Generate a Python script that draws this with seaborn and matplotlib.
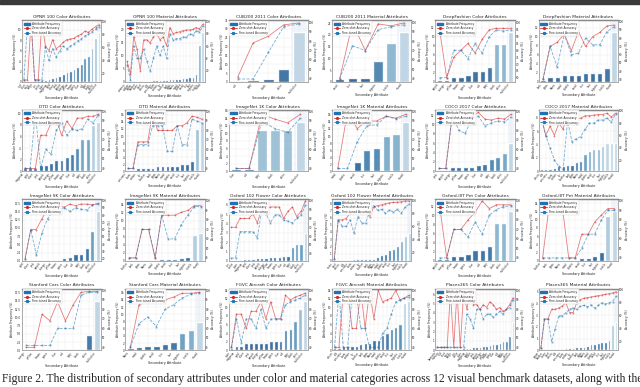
"""
Secondary attribute distributions (color / material) across 12 benchmarks
bars = attribute frequency, lines = accuracy of two models (twin axis)
"""

import numpy as np
import pandas as pd
import matplotlib
matplotlib.use('Agg')
import matplotlib.pyplot as plt
from matplotlib.patches import Patch, Rectangle
from matplotlib.lines import Line2D
import seaborn as sns

# ============================================================================
# 1. DATA (approximate)
# ============================================================================

titles = [
    'OPNR 100 Color Attributes', 'OPNR 100 Material Attributes',
    'CUB200 2011 Color Attributes', 'CUB200 2011 Material Attributes',
    'DeepFashion Color Attributes', 'DeepFashion Material Attributes',
    'DTD Color Attributes', 'DTD Material Attributes',
    'ImageNet 1K Color Attributes', 'ImageNet 1K Material Attributes',
    'COCO 2017 Color Attributes', 'COCO 2017 Material Attributes',
    'ImageNet SK Color Attributes', 'ImageNet SK Material Attributes',
    'Oxford 102 Flower Color Attributes', 'Oxford 102 Flower Material Attributes',
    'Oxford-IIIT Pet Color Attributes', 'Oxford-IIIT Pet Material Attributes',
    'Stanford Cars Color Attributes', 'Stanford Cars Material Attributes',
    'FGVC Aircraft Color Attributes', 'FGVC Aircraft Material Attributes',
    'Places365 Color Attributes', 'Places365 Material Attributes',
]

color_names = ['lavender', 'maroon', 'teal', 'olive', 'navy', 'beige', 'tan',
               'violet', 'cyan', 'magenta', 'gold', 'silver', 'pink', 'purple',
               'orange', 'yellow', 'brown', 'green', 'blue', 'red', 'gray',
               'black', 'white', 'multicolor']
material_names = ['ceramic', 'rubber', 'paper', 'leather', 'stone', 'wool',
                  'denim', 'silk', 'concrete', 'foam', 'cotton', 'fur', 'feather',
                  'bark', 'glass', 'fabric', 'metal', 'plastic', 'wood', 'skin',
                  'hair', 'organic', 'textile', 'mixed']

frequency = [
    [0.1, 0.1, 0.1, 0.1, 0.2, 0.3, 0.4, 0.6, 0.8, 1.0, 1.2, 1.5, 1.8, 2.1, 2.5, 2.9, 3.4, 4.5, 5.0, 6.5, 8.5, 9.5],
    [0.2, 0.2, 0.3, 0.3, 0.4, 0.4, 0.5, 0.5, 0.6, 0.6, 0.7, 0.8, 0.8, 0.9, 1.0, 1.1, 1.2, 1.3, 1.5, 1.7, 2.0, 3.0, 14, 19],
    [0.6, 1.0, 1.6, 7.5, 28],
    [1.0, 1.7, 1.7, 9.0, 16.5, 21],
    [0.5, 0.5, 1.0, 1.0, 1.5, 2.5, 2.5, 3.2, 8.5, 8.5, 11],
    [0.5, 1.0, 1.0, 1.5, 1.5, 1.5, 2.0, 2.0, 2.0, 3.0, 11],
    [0.5, 0.5, 0.5, 1.0, 1.0, 1.5, 2.0, 2.0, 2.5, 3.0, 4.0, 5.5, 5.5, 8.0, 8.5],
    [0.3, 0.3, 1.0, 1.0, 1.0, 1.0, 1.5, 1.5, 1.5, 1.5, 1.5, 2.0, 2.0, 3.0, 12, 14],
    [0.5, 0.5, 11, 11, 11, 13],
    [0.5, 0.5, 2.5, 6.0, 6.5, 10, 10.5, 14],
    [0.2, 0.2, 1.0, 1.0, 1.0, 1.0, 1.3, 1.6, 2.6, 3.0, 4.0, 6.0],
    [0.4, 0.4, 0.4, 0.5, 0.8, 0.8, 1.0, 1.0, 1.4, 1.6, 2.6, 3.0, 3.3, 3.3, 3.8, 4.2, 4.2, 4.2],
    [0.1, 0.1, 0.1, 0.2, 0.2, 0.2, 0.3, 0.8, 1.2, 2.0, 2.2, 3.8, 9.0, 15],
    [0.2, 0.2, 0.3, 0.3, 0.3, 0.5, 0.5, 0.5, 0.7, 1.0, 6.5, 7.0],
    [0.1, 0.1, 0.1, 0.2, 0.2, 0.2, 0.3, 0.3, 0.3, 0.4, 0.4, 0.4, 0.5, 0.5, 1.5, 1.8, 1.8, 3.0],
    [0.1, 0.1, 0.1, 0.1, 0.1, 0.2, 0.2, 0.2, 0.2, 0.3, 0.3, 0.5, 0.8, 1.0, 1.5, 1.6, 2.0, 2.8, 3.4, 3.9],
    [0.5, 0.5, 1.0, 1.0, 1.5, 2.5, 2.5, 3.2, 8.5, 8.5, 11],
    [0.3, 0.3, 0.3, 0.3, 0.3, 0.3, 0.6, 0.6, 1.2, 2.2, 11, 12],
    [0.2, 0.3, 0.3, 0.4, 0.4, 0.4, 0.4, 0.4, 4.5, 15],
    [0.5, 1.0, 1.2, 1.2, 1.6, 2.2, 4.8, 5.6, 7.8],
    [0.5, 1.0, 1.0, 1.7, 1.7, 1.7, 1.7, 1.7, 2.2, 2.2, 2.2, 4.6, 5.0, 6.8, 9.5, 11.5],
    [0.5, 0.5, 1.0, 1.0, 1.0, 1.0, 1.5, 1.8, 1.8, 2.5, 2.5, 3.5, 4.0, 5.0, 5.5, 6.0, 11, 11.5],
    [0.1, 0.1, 0.1, 0.1, 0.1, 0.1, 0.1, 0.1, 0.2, 0.2, 0.2, 0.3, 0.3, 0.3, 0.4, 0.5, 0.6, 0.7, 0.7, 0.8, 1.0, 1.0, 1.5, 3.0],
    [0.1, 0.1, 0.1, 0.1, 0.1, 0.1, 0.1, 0.2, 0.2, 0.2, 0.3, 0.3, 0.3, 0.4, 0.5, 0.5, 0.6, 0.7, 0.7, 0.9, 2.2, 2.4],
]

# accuracy of model A (red) and model B (blue), percent
acc_red = [
    [10, 10, 100, 10, 10, 100, 62, 55, 72, 58, 62, 68, 72, 73, 74, 78, 80, 85, 83, 88, 92, 95],
    [35, 15, 75, 55, 20, 70, 70, 65, 75, 80, 70, 75, 60, 90, 80, 82, 83, 85, 86, 86, 87, 90, 88, 95],
    [42, 78, 85, 97, 99],
    [40, 99, 70, 98, 96, 99],
    [95, 60, 75, 80, 85, 78, 88, 95, 96, 96, 96],
    [30, 70, 75, 85, 65, 88, 70, 82, 87, 95, 96],
    [40, 40, 40, 75, 75, 88, 92, 75, 90, 82, 93, 93, 95, 95, 97],
    [40, 40, 68, 68, 68, 99, 80, 80, 80, 80, 85, 85, 88, 95, 94, 92],
    [40, 40, 97, 92, 88, 97],
    [40, 99, 82, 90, 90, 95, 93, 97],
    [40, 40, 96, 92, 89, 95, 99, 92, 91, 93, 92, 97],
    [90, 60, 75, 60, 80, 70, 98, 88, 88, 88, 92, 92, 93, 94, 94, 96, 90, 96],
    [20, 60, 60, 75, 88, 88, 92, 91, 95, 93, 95, 95, 94, 96],
    [40, 40, 70, 70, 40, 85, 85, 85, 88, 90, 95, 95],
    [70, 70, 80, 80, 80, 85, 75, 92, 92, 93, 93, 93, 80, 88, 93, 82, 88, 100],
    [10, 70, 70, 72, 80, 80, 82, 80, 85, 75, 90, 92, 93, 95, 96, 97, 97, 98, 99, 99],
    [95, 40, 70, 70, 80, 88, 100, 92, 96, 96, 96],
    [40, 95, 95, 95, 40, 40, 65, 65, 78, 85, 92, 92],
    [40, 40, 75, 68, 88, 68, 85, 98, 99, 99],
    [40, 85, 88, 88, 90, 93, 97, 97, 98],
    [40, 75, 75, 60, 78, 78, 88, 70, 88, 70, 70, 95, 90, 93, 95, 97],
    [40, 40, 99, 99, 60, 60, 100, 60, 100, 70, 100, 88, 90, 92, 100, 90, 92, 95],
    [40, 40, 40, 40, 99, 40, 99, 40, 99, 80, 99, 85, 85, 80, 85, 82, 88, 85, 80, 82, 78, 80, 85, 92],
    [10, 55, 55, 70, 70, 72, 75, 80, 65, 65, 80, 85, 87, 88, 89, 90, 91, 92, 93, 94, 95, 97],
]

acc_blue = [
    [10, 100, 100, 10, 10, 10, 60, 40, 58, 45, 55, 62, 58, 62, 66, 70, 73, 78, 80, 84, 88, 92],
    [30, 5, 60, 40, 40, 55, 35, 20, 40, 60, 45, 60, 40, 80, 70, 72, 72, 75, 74, 80, 78, 85, 83, 92],
    [40, 40, 68, 95, 98],
    [40, 75, 70, 92, 95, 97],
    [60, 60, 80, 80, 74, 85, 78, 90, 95, 94, 95],
    [30, 70, 45, 85, 60, 62, 80, 72, 72, 88, 94],
    [40, 40, 99, 40, 60, 55, 80, 88, 75, 82, 80, 82, 92, 88, 96],
    [40, 40, 65, 65, 65, 85, 85, 85, 58, 58, 85, 65, 65, 92, 90, 88],
    [40, 40, 90, 82, 78, 93],
    [40, 40, 68, 85, 86, 95, 92, 95],
    [40, 40, 96, 80, 77, 93, 95, 85, 88, 90, 89, 94],
    [90, 60, 40, 20, 10, 5, 85, 50, 55, 58, 70, 80, 80, 85, 85, 88, 82, 95],
    [20, 60, 25, 55, 75, 85, 88, 90, 85, 90, 88, 87, 94, 95],
    [40, 40, 70, 70, 40, 85, 60, 60, 75, 85, 94, 94],
    [35, 35, 65, 65, 65, 65, 58, 90, 85, 75, 84, 84, 78, 77, 75, 80, 84, 95],
    [10, 70, 60, 60, 70, 50, 75, 65, 65, 84, 92, 85, 86, 80, 85, 82, 86, 80, 90, 94],
    [40, 40, 70, 70, 62, 78, 65, 85, 91, 94, 95],
    [40, 40, 40, 40, 40, 40, 50, 65, 65, 80, 90, 90],
    [42, 42, 42, 42, 60, 60, 60, 95, 98, 98],
    [40, 65, 72, 62, 80, 85, 92, 96, 97],
    [40, 70, 45, 70, 70, 60, 80, 60, 70, 70, 70, 85, 88, 90, 92, 95],
    [40, 99, 40, 40, 95, 95, 60, 60, 40, 40, 40, 55, 60, 75, 88, 90, 92, 93],
    [40, 40, 40, 40, 40, 40, 40, 40, 40, 75, 70, 60, 80, 80, 70, 75, 75, 72, 75, 78, 75, 80, 82, 90],
    [10, 55, 55, 20, 40, 60, 60, 65, 70, 72, 70, 75, 76, 74, 77, 72, 76, 80, 78, 80, 82, 90],
]

legend_labels = ['Attribute Frequency', 'Zero-shot Accuracy', 'Fine-tuned Accuracy']
caption = ('Figure 2. The distribution of secondary attributes under color and material categories '
           'across 12 visual benchmark datasets, along with the')

# ============================================================================
# 2. FIGURE
# ============================================================================

sns.set_theme(style='whitegrid')
plt.rcParams['font.family'] = ['DejaVu Sans']

fig, axes = plt.subplots(4, 6, figsize=(6.4, 3.87), dpi=100)
fig.subplots_adjust(left=0.034, right=0.966, top=0.948, bottom=0.095,
                    wspace=0.3, hspace=0.45)

red = '#d62728'
blue = '#1f77b4'

for k, ax in enumerate(axes.flat):
    vals = frequency[k]
    n = len(vals)
    pool = color_names if k % 2 == 0 else material_names
    cats = pool[-n:]
    df = pd.DataFrame({'attr': cats, 'freq': vals,
                       'red': acc_red[k], 'blue': acc_blue[k], 'pos': np.arange(n)})

    # darker bars for rare attributes, lighter for frequent ones
    rel = np.array(vals) / max(vals)
    shades = [plt.cm.Blues(0.85 - 0.55 * r ** 1.5) for r in rel]
    sns.barplot(data=df, x='attr', y='freq', hue='attr', palette=shades,
                legend=False, ax=ax, width=0.75, alpha=0.9)
    ax.axvspan(n - 1.5, n - 0.5, color='#deebf7', alpha=0.45, zorder=0, lw=0)
    ax.set_ylim(0, max(vals) * 1.25 if max(vals) > 8 else max(vals) * 2.2)

    ax2 = ax.twinx()
    sns.lineplot(data=df, x='pos', y='red', ax=ax2, color=red, lw=0.6, alpha=0.6,
                 marker='o', markersize=1.3, markeredgewidth=0)
    sns.lineplot(data=df, x='pos', y='blue', ax=ax2, color=blue, lw=0.6, alpha=0.6,
                 linestyle='--', marker='s', markersize=1.3, markeredgewidth=0)
    ax2.set_ylim(min(min(acc_red[k]), min(acc_blue[k])) - 3, 102)
    ax2.grid(False)

    ax.set_title(titles[k], fontsize=3.2, pad=1.5)
    ax.set_xlabel('Secondary Attribute', fontsize=2.4, labelpad=0.5)
    ax.set_ylabel('Attribute Frequency (%)', fontsize=2.2, labelpad=0.5)
    ax2.set_ylabel('Accuracy (%)', fontsize=2.2, labelpad=0.5)
    ax.tick_params(axis='x', labelsize=1.8, rotation=50, pad=0.5, length=0)
    ax.tick_params(axis='y', labelsize=2, pad=0.5, length=0)
    ax2.tick_params(axis='y', labelsize=2, pad=0.5, length=0)
    for lab in ax.get_xticklabels():
        lab.set_ha('right')
    ax.set_xlim(-0.6, n - 0.4)
    ax.grid(lw=0.25, color='#e6e6e6')
    for a in (ax, ax2):
        for s in a.spines.values():
            s.set_linewidth(0.4)
            s.set_color('#999999')
        a.spines['top'].set_linewidth(0.9)
        a.spines['top'].set_color('#888888')

    handles = [Patch(color=plt.cm.Blues(0.75)),
               Line2D([], [], color=red, lw=0.6, marker='o', markersize=1.3),
               Line2D([], [], color=blue, lw=0.6, ls='--', marker='s', markersize=1.3)]
    ax2.legend(handles, legend_labels, loc='upper left', fontsize=2.1, frameon=True,
               framealpha=0.9, borderpad=0.3, handlelength=2.2, labelspacing=0.2,
               borderaxespad=0.3).get_frame().set_linewidth(0.3)

# screenshot strip along the top and the caption
fig.patches.append(Rectangle((0, 0.99), 1, 0.01, transform=fig.transFigure,
                             color='#3a3a3a', zorder=5))
fig.text(0.003, 0.012, caption, fontsize=8.4, family='Liberation Serif', ha='left')

plt.savefig('out.png', dpi=100)
plt.close()
